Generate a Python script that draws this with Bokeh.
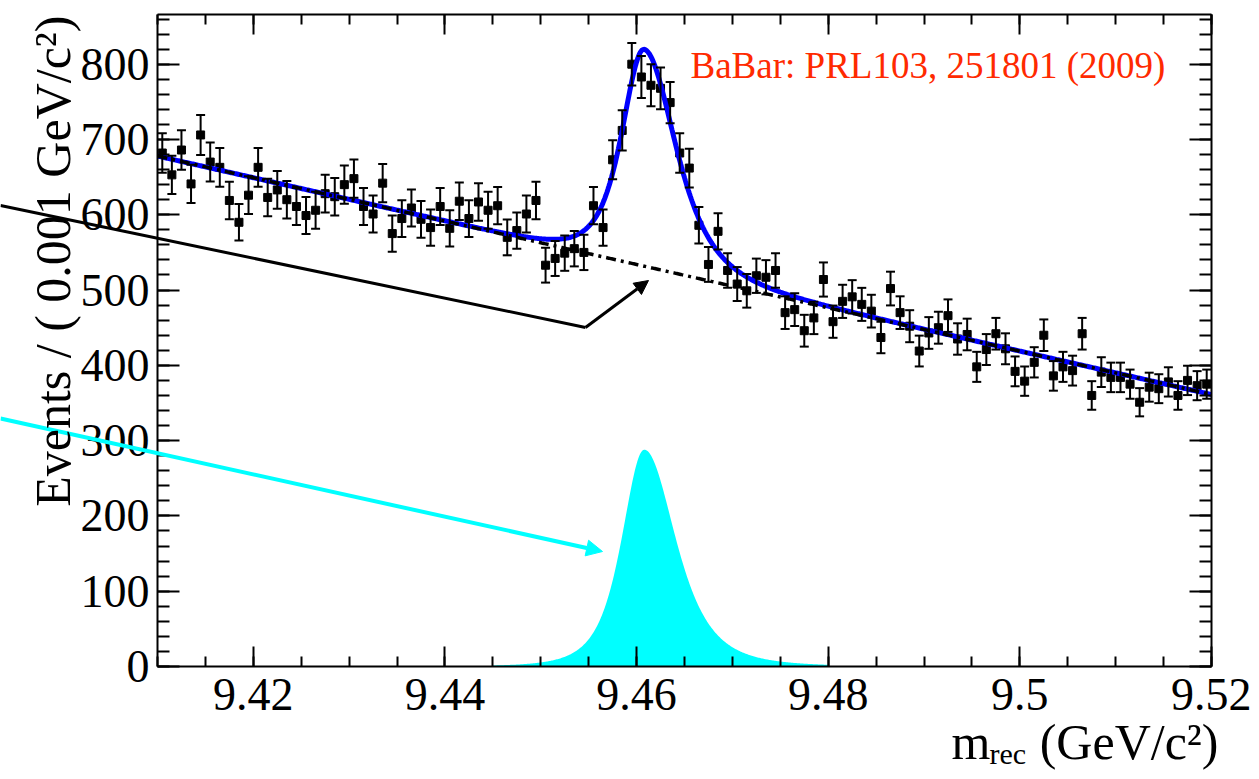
import numpy as np
from bokeh.plotting import figure
from bokeh.models import (Range1d, LinearAxis, FixedTicker, SingleIntervalTicker,
                          CustomJSTickFormatter, Whisker, TeeHead, ColumnDataSource,
                          Label, Arrow, NormalHead)
from bokeh.embed import file_html
from bokeh.resources import INLINE

# ---------------- data ----------------
bin_low = 9.41          # GeV/c^2, first bin edge
bin_width = 0.001       # GeV/c^2
counts = [682, 653, 686, 641, 706, 670, 663, 619, 590, 626,
          663, 623, 633, 620, 611, 599, 606, 628, 624, 640,
          648, 611, 601, 642, 575, 595, 609, 594, 583, 611,
          582, 618, 595, 617, 606, 612, 570, 579, 601, 619,
          533, 542, 549, 555, 550, 612, 583, 673, 712, 800,
          783, 772, 768, 749, 682, 662, 586, 534, 578, 526,
          508, 499, 519, 517, 526, 470, 474, 446, 463, 514,
          458, 485, 491, 481, 472, 437, 502, 470, 452, 419,
          443, 450, 466, 435, 441, 398, 421, 442, 422, 392,
          379, 404, 440, 386, 398, 393, 442, 360, 391, 384,
          384, 375, 351, 371, 369, 378, 360, 380, 373, 375]

# fit model parameters
bkg_at_low = 678.0        # events at 9.41
bkg_slope = -2880.0       # events per GeV/c^2
sig_peak = 288.0          # signal height
sig_mean = 9.4608
sig_gamma_left = 0.0043
sig_gamma_right = 0.0060
sig_power = 2.0
sig_fill_lo, sig_fill_hi = 9.445, 9.48

x_major_ticks = [9.42, 9.44, 9.46, 9.48, 9.50, 9.52]
y_major_interval = 100

title_text = "BaBar: PRL103, 251801 (2009)"
y_title = "Events / ( 0.001 GeV/c\u00b2)"
x_title_main, x_title_sub, x_title_unit = "m", "rec", "(GeV/c\u00b2)"

# ---------------- geometry ----------------
XMIN, XMAX = 9.41, 9.52          # plotted frame (ROOT frame)
YMIN, YMAX = 0.0, 866.0
W, H = 1251, 771                 # canvas
FL, FR, FT, FB = 157, 1211, 14, 666   # ROOT frame edges in canvas pixels
SX = (XMAX - XMIN) / (FR - FL)
SY = (YMAX - YMIN) / (FB - FT)


def px2x(px):
    return XMIN + (px - FL) * SX


def py2y(py):
    return YMIN + (FB - py) * SY


# ---------------- derived series ----------------
counts_arr = np.array(counts, dtype=float)
centers = bin_low + bin_width * (np.arange(len(counts)) + 0.5)
err = np.sqrt(counts_arr)


def bkg(m):
    return bkg_at_low + bkg_slope * (m - XMIN)


def sig(m):
    g = np.where(m < sig_mean, sig_gamma_left, sig_gamma_right)
    return sig_peak * (1.0 + ((m - sig_mean) / g) ** 2) ** (-sig_power)


mc = np.linspace(XMIN, XMAX, 1101)
ms = np.linspace(sig_fill_lo, sig_fill_hi, 400)

FONT = "Liberation Serif"

p = figure(width=W, height=H,
           x_range=Range1d(px2x(0), px2x(W)), y_range=Range1d(py2y(H), py2y(0)),
           output_backend="svg", toolbar_location=None,
           x_axis_location=None, y_axis_location=None,
           min_border_left=0, min_border_right=0, min_border_top=0, min_border_bottom=0)
p.grid.visible = False
p.outline_line_color = None
p.background_fill_color = "white"
p.border_fill_color = "white"

blank = CustomJSTickFormatter(code="return '';")


def style(ax, maj, mino, labels):
    ax.axis_line_color = "black"
    ax.axis_line_width = 2
    ax.major_tick_in = maj
    ax.major_tick_out = 0
    ax.minor_tick_in = mino
    ax.minor_tick_out = 0
    ax.major_tick_line_width = 2
    ax.minor_tick_line_width = 2
    ax.major_tick_line_color = "black"
    ax.minor_tick_line_color = "black"
    ax.major_label_text_font = FONT
    ax.major_label_text_font_size = "46px"
    ax.major_label_text_color = "black"
    if not labels:
        ax.formatter = blank


minor_x = list(np.round(np.arange(XMIN, XMAX + 1e-9, 0.005), 3))
xfmt = CustomJSTickFormatter(code="return tick.toFixed(2).replace(/0$/, '');")
for loc, fixed in (("below", YMIN), ("above", YMAX)):
    ax = LinearAxis(ticker=FixedTicker(ticks=x_major_ticks, minor_ticks=minor_x),
                    formatter=xfmt, fixed_location=fixed, bounds=(XMIN, XMAX))
    style(ax, 20, 10, loc == "below")
    ax.major_label_standoff = 12
    p.add_layout(ax, loc)

for loc, fixed in (("left", XMIN), ("right", XMAX)):
    ax = LinearAxis(ticker=SingleIntervalTicker(interval=y_major_interval, num_minor_ticks=5),
                    fixed_location=fixed, bounds=(YMIN, YMAX))
    style(ax, 22, 12, loc == "left")
    ax.major_label_standoff = 8
    p.add_layout(ax, loc)

# signal component (cyan filled)
p.varea(x=ms, y1=0, y2=sig(ms), fill_color="#00ffff", fill_alpha=1.0)

# data points with error bars
src = ColumnDataSource(dict(x=centers, y=counts_arr, lo=counts_arr - err, hi=counts_arr + err))
wh = Whisker(source=src, base="x", upper="hi", lower="lo", dimension="height",
             line_color="black", line_width=2,
             upper_head=TeeHead(size=9, line_width=2, line_color="black"),
             lower_head=TeeHead(size=9, line_width=2, line_color="black"))
wh.level = "glyph"
p.add_layout(wh)
p.scatter(x="x", y="y", source=src, marker="square", size=8, color="black")

# total fit and background
p.line(mc, bkg(mc) + sig(mc), line_color="#0000ff", line_width=5)
p.line(mc, bkg(mc), line_color="black", line_width=3.5, line_dash="10 5 3 5")

# annotation arrows (positions in canvas pixels of the reference)
blk = dict(line_color="black", line_width=3)
p.add_layout(Arrow(x_start=px2x(0), y_start=py2y(205), x_end=px2x(585), y_end=py2y(327),
                   end=None, **blk))
p.add_layout(Arrow(x_start=px2x(585), y_start=py2y(327), x_end=px2x(648), y_end=py2y(280),
                   end=NormalHead(size=14, fill_color="black", line_color="black", line_width=1),
                   **blk))
p.add_layout(Arrow(x_start=px2x(0), y_start=py2y(418), x_end=px2x(602), y_end=py2y(551),
                   line_color="#00ffff", line_width=4,
                   end=NormalHead(size=16, fill_color="#00ffff", line_color="#00ffff", line_width=1)))

# texts (vertical anchor = middle of the text box)
p.add_layout(Label(x=px2x(690), y=py2y(65), text=title_text, text_color="#ff2a00",
                   text_font=FONT, text_font_size="37px", text_baseline="middle"))
p.add_layout(Label(x=px2x(52), y=py2y(15), text=y_title, angle=np.pi / 2,
                   text_align="right", text_baseline="middle",
                   text_font=FONT, text_font_size="50px", text_color="black"))
p.add_layout(Label(x=px2x(1218), y=py2y(741), text=x_title_unit, text_align="right",
                   text_baseline="middle", text_font=FONT, text_font_size="50px",
                   text_color="black"))
p.add_layout(Label(x=px2x(989), y=py2y(753), text=x_title_sub, text_align="left",
                   text_baseline="middle", text_font=FONT, text_font_size="30px",
                   text_color="black"))
p.add_layout(Label(x=px2x(990), y=py2y(741), text=x_title_main, text_align="right",
                   text_baseline="middle", text_font=FONT, text_font_size="50px",
                   text_color="black"))

open("out.html", "w").write(file_html(p, INLINE))
